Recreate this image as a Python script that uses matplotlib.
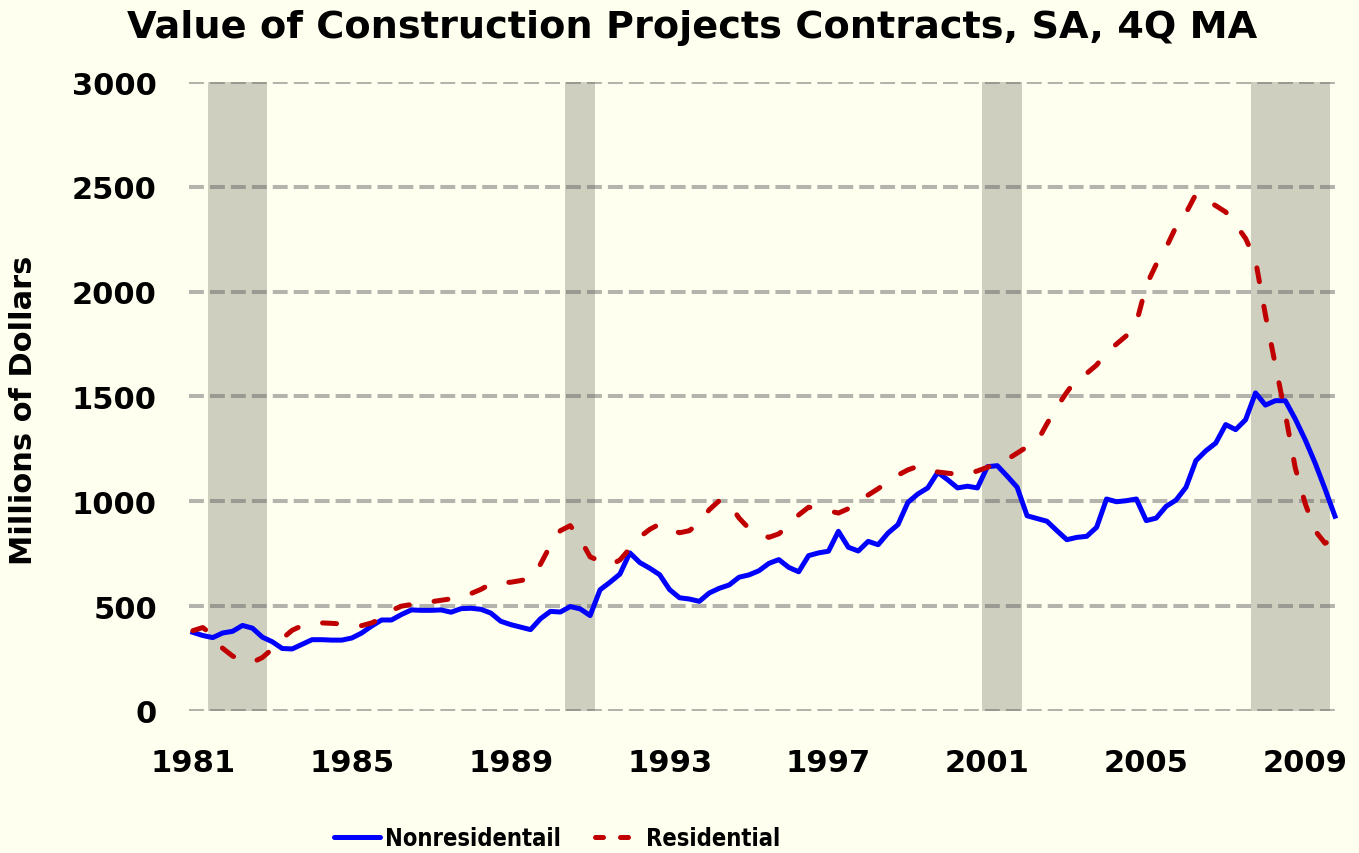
import numpy as np
import matplotlib.pyplot as plt
from matplotlib import font_manager
from matplotlib.lines import Line2D

# quarterly, 1981Q1 .. 2009Q4, 4Q moving average, millions of dollars
nonres = [375, 360, 350, 372, 380, 408, 395, 352, 330, 298,
          296, 318, 340, 340, 338, 338, 348, 372, 405, 434,
          434, 460, 482, 480, 480, 482, 471, 488, 490, 485,
          467, 428, 412, 400, 388, 440, 475, 472, 498, 487,
          455, 578, 614, 653, 754, 708, 681, 650, 579, 540,
          534, 523, 563, 585, 601, 638, 649, 669, 704, 722,
          685, 664, 741, 754, 762, 857, 781, 763, 809, 793,
          849, 889, 995, 1035, 1064, 1138, 1103, 1064, 1072, 1064,
          1165, 1170, 1120, 1067, 931, 918, 905, 860, 817, 828,
          833, 876, 1011, 998, 1003, 1011, 908, 920, 976, 1006,
          1067, 1194, 1241, 1278, 1366, 1342, 1389, 1517, 1459, 1480,
          1480, 1393, 1294, 1183, 1059, 929]

resid = [383, 398, 360, 299, 262, 240, 232, 255, 296, 345,
         385, 407, 415, 420, 418, 415, 412, 407, 420, 442,
         480, 500, 508, 515, 521, 528, 535, 545, 560, 580,
         606, 612, 614, 622, 632, 700, 790, 860, 884, 820,
         735, 715, 696, 720, 775, 830, 866, 892, 868, 850,
         860, 900, 960, 1003, 990, 920, 870, 847, 828, 845,
         884, 935, 972, 965, 955, 944, 965, 992, 1030, 1060,
         1094, 1125, 1150, 1167, 1151, 1140, 1134, 1130, 1130, 1145,
         1162, 1185, 1200, 1230, 1260, 1284, 1370, 1450, 1520, 1585,
         1610, 1650, 1710, 1750, 1790, 1850, 2030, 2130, 2210, 2310,
         2375, 2465, 2440, 2410, 2380, 2320, 2254, 2150, 1889, 1650,
         1417, 1160, 990, 860, 800, 824]

start_year = 1981
tick_years = [1981, 1985, 1989, 1993, 1997, 2001, 2005, 2009]
# recessions as (first quarter, last quarter) indices
recessions = [(2, 7), (38, 40), (80, 83), (107, 114)]

bg = "#FFFFF0"
plt.rcParams["font.family"] = "DejaVu Sans"
plt.rcParams["font.weight"] = "bold"

# legend text in the original is a narrow bold face
fonts = font_manager.fontManager.ttflist
leg_prop = {"family": "DejaVu Sans", "weight": "bold", "size": 17}
if any(f.name == "DejaVu Sans" and f.stretch == "condensed" for f in fonts):
    leg_prop["stretch"] = "condensed"
else:
    leg_prop["size"] = 14

fig = plt.figure(figsize=(13.59, 8.54), dpi=100, facecolor=bg)
ax = fig.add_axes([0.139, 0.1663, 0.8455, 0.7365])
ax.set_facecolor(bg)

x = np.arange(len(nonres))

for a, b in recessions:
    ax.axvspan(a - 0.5, b + 0.5, color="#CFCFC0", zorder=1, lw=0)

ax.set_ylim(0, 3000)
ax.set_xlim(-0.4, len(nonres) - 0.7)
ax.set_yticks(range(0, 3001, 500))
for v in range(0, 3001, 500):
    ax.axhline(v, color="#5A5A5A", alpha=0.45, lw=2.9,
               ls=(0, (3.7, 1.5)), zorder=2)

ax.plot(x, nonres, color="#0000FF", lw=3.6, zorder=3, solid_joinstyle="round")
ax.plot(x, resid, color="#C00000", lw=3.6, zorder=4,
        dashes=(2.8, 5), dash_capstyle="round")

ax.set_xticks([(y - start_year) * 4 for y in tick_years])
ax.set_xticklabels([str(y) for y in tick_years])
ax.tick_params(length=0, labelsize=22)
ax.tick_params(axis="y", pad=23)
ax.tick_params(axis="x", pad=27)
for s in ax.spines.values():
    s.set_visible(False)

fig.text(692 / 1359, 1 - 38 / 854, "Value of Construction Projects Contracts, SA, 4Q MA",
         ha="center", va="baseline", fontsize=27.5, fontweight="bold")
fig.text(24 / 1359, 1 - 410 / 854, "Millions of Dollars", rotation=90,
         ha="center", va="center", fontsize=22, fontweight="bold")

handles = [Line2D([], [], color="#0000FF", lw=3.6, solid_capstyle="round"),
           Line2D([], [], color="#C00000", lw=3.6, dashes=(1.6, 3.4),
                  dash_capstyle="round")]
fig.legend(handles, ["Nonresidentail", "Residential"], loc="center",
           bbox_to_anchor=(557 / 1359, 1 - 839 / 854), ncol=2,
           frameon=False, handlelength=1.95, handletextpad=0.22, columnspacing=1.45,
           prop=leg_prop)

fig.savefig("out.png", dpi=100, facecolor=bg)
